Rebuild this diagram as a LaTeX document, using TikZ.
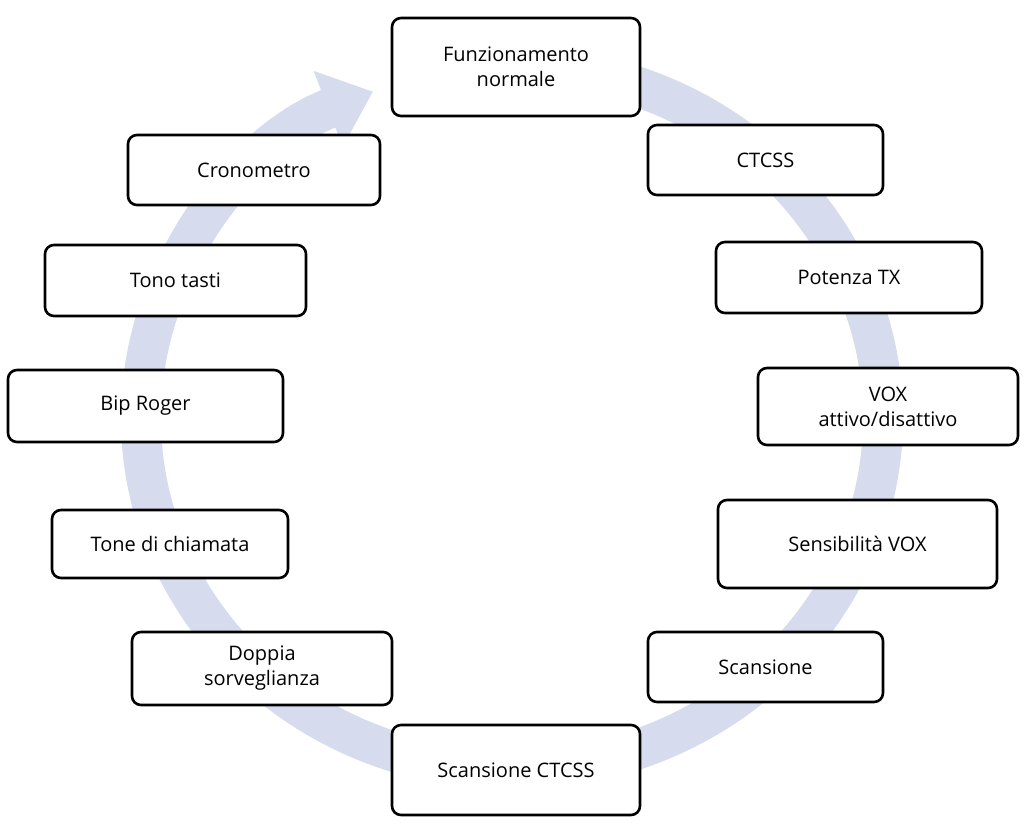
\documentclass[tikz,border=0pt]{standalone}
\usepackage{fontspec}
\setmainfont{Open Sans}
\usetikzlibrary{arrows.meta}
\definecolor{ring}{RGB}{214,219,238}
\begin{document}
\begin{tikzpicture}[x=1pt,y=-1pt,
  box/.style={draw=black,line width=2.6pt,rounded corners=9pt,fill=white,align=center,
    font=\fontsize{20}{25}\selectfont,inner sep=0pt}]
\useasboundingbox (0,0) rectangle (1024,823);
\draw[ring,line width=40pt,-{Triangle[width=78pt,length=48pt]}]
  (512,418) ++(-80:371 and 352) arc[start angle=-80,end angle=248,x radius=371,y radius=352];
\def\bx#1#2#3#4#5#6{\node[box,minimum width=#4-#2,minimum height=#5-#3] (#1) at ({(#2+#4)/2},{(#3+#5)/2}) {#6};}
\bx{a}{392}{18}{640}{116}{Funzionamento\\normale}
\bx{b}{648}{125}{883}{195}{CTCSS}
\bx{c}{716}{242}{982}{313}{Potenza TX}
\bx{d}{758}{368}{1018}{445}{VOX\\attivo/disattivo}
\bx{e}{718}{500}{997}{588}{Sensibilità VOX}
\bx{f}{648}{632}{883}{702}{Scansione}
\bx{g}{392}{725}{640}{815}{Scansione CTCSS}
\bx{h}{132}{632}{392}{705}{Doppia\\sorveglianza}
\bx{i}{52}{510}{288}{578}{Tone di chiamata}
\bx{j}{8}{370}{283}{442}{Bip Roger}
\bx{k}{45}{245}{306}{316}{Tono tasti}
\bx{l}{128}{135}{380}{205}{Cronometro}
\end{tikzpicture}
\end{document}
